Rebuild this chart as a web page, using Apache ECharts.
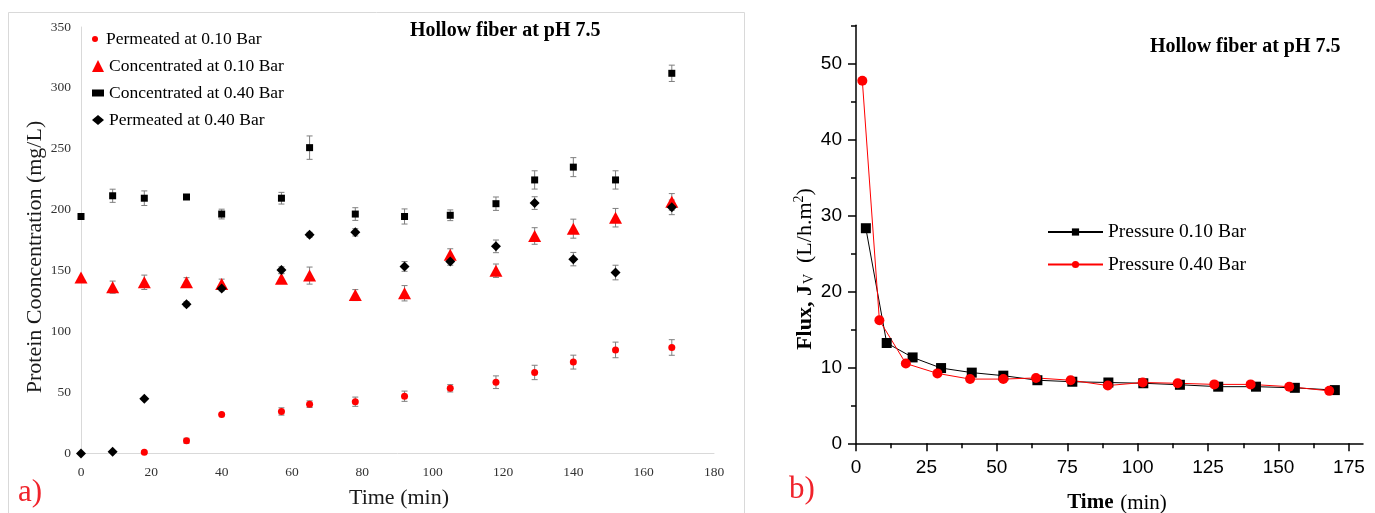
<!DOCTYPE html>
<html>
<head>
<meta charset="utf-8">
<script src="https://cdn.jsdelivr.net/npm/echarts@6/dist/echarts.min.js"></script>
<style>
  html, body { margin: 0; padding: 0; background: #fff; }
  #chart { width: 1375px; height: 513px; }
</style>
</head>
<body>
<div id="chart"></div>
<script>
// ---- a) protein concentration vs time (mean ± error) ----
const timeA = [0, 9, 18, 30, 40, 57, 65, 78, 92, 105, 118, 129, 140, 152, 168];
const timePerm10 = [18, 30, 40, 57, 65, 78, 92, 105, 118, 129, 140, 152, 168];

const perm10 = [1, 10.5, 32, 34.5, 40.5, 42.5, 47, 53.5, 58.5, 66.5, 75, 85, 87];
const perm10Err = [1, 2, 0, 3, 2.7, 3.8, 4.2, 3, 5.2, 5.9, 5.7, 6.4, 6.4];

const conc10 = [144.5, 136.5, 140.5, 140.5, 139, 143.5, 146, 130, 131.5, 163, 150, 178.5, 184.5, 193.5, 206.5];
const conc10Err = [0, 5, 5.9, 3.8, 4.1, 4, 7, 4.5, 6.3, 5, 5.5, 6.8, 7.8, 7.6, 6.8];

const conc40 = [194.5, 211.5, 209.5, 210.5, 196.5, 209.5, 251, 196.5, 194.5, 195.5, 205, 224.5, 235, 224.5, 312];
const conc40Err = [0, 5.4, 6, 2, 4, 4.8, 9.6, 5.2, 6.2, 4.4, 5.5, 7.5, 7.8, 7.5, 6.7];

const perm40 = [0, 1.5, 45, 122.5, 135.5, 150.5, 179.5, 181.5, 153.5, 157.5, 170, 205.5, 159.5, 148.5, 202];
const perm40Err = [0, 0, 0, 2, 2, 2.7, 2, 3, 4, 3, 5.2, 5.2, 5.5, 6, 6];

// ---- b) permeate flux vs time ----
const timeFlux10 = [3.5, 10.9, 20.1, 30.2, 41.1, 52.3, 64.4, 76.8, 89.6, 102, 115, 128.6, 142, 155.8, 170];
const flux10 = [28.3, 13.2, 11.3, 9.9, 9.3, 8.9, 8.3, 8.1, 8.0, 7.9, 7.7, 7.45, 7.45, 7.3, 7.0];
const timeFlux40 = [2.25, 8.3, 17.7, 28.9, 40.5, 52.3, 63.9, 76.2, 89.4, 101.8, 114.2, 127.2, 140.1, 153.8, 168];
const flux40 = [47.7, 16.2, 10.5, 9.2, 8.45, 8.45, 8.6, 8.3, 7.6, 8.0, 7.9, 7.75, 7.75, 7.45, 6.9];

// axis ticks for panel b
const fluxTimeTicks = [0, 25, 50, 75, 100, 125, 150, 175];
const fluxTimeMinor = [12.5, 37.5, 62.5, 87.5, 112.5, 137.5, 162.5];
const fluxTicks = [0, 10, 20, 30, 40, 50];
const fluxMinor = [5, 15, 25, 35, 45, 55];

const SERIF = '"Liberation Serif", "Times New Roman", serif';
const SANS = '"Liberation Sans", Arial, sans-serif';
const RED = '#ff0000';

const pairs = (xs, ys) => xs.map((x, i) => [x, ys[i]]);
const triples = (xs, ys, es) => xs.map((x, i) => [x, ys[i], es[i]]);

function errorBar(params, api) {
  const x = api.value(0), y = api.value(1), e = api.value(2);
  if (!e) return null;
  const hi = api.coord([x, y + e]);
  const lo = api.coord([x, y - e]);
  const hw = 3;
  const style = { stroke: '#7f7f7f', lineWidth: 1 };
  return {
    type: 'group',
    children: [
      { type: 'line', shape: { x1: hi[0], y1: hi[1], x2: lo[0], y2: lo[1] }, style },
      { type: 'line', shape: { x1: hi[0] - hw, y1: hi[1], x2: hi[0] + hw, y2: hi[1] }, style },
      { type: 'line', shape: { x1: lo[0] - hw, y1: lo[1], x2: lo[0] + hw, y2: lo[1] }, style }
    ]
  };
}

function errSeries(xs, ys, es) {
  return {
    type: 'custom', xAxisIndex: 0, yAxisIndex: 0, z: 1,
    renderItem: errorBar, encode: { x: 0, y: 1 },
    data: triples(xs, ys, es), silent: true
  };
}

function legendA(name, h, top) {
  return {
    data: [name], orient: 'vertical', left: 92, top: top, padding: 0,
    itemWidth: 12, itemHeight: h, selectedMode: false,
    textStyle: { fontFamily: SERIF, fontSize: 17.5, color: '#000', lineHeight: 20 }
  };
}

const chart = echarts.init(document.getElementById('chart'), null, { renderer: 'canvas' });

chart.setOption({
  animation: false,
  backgroundColor: '#fff',
  title: [
    { text: 'Hollow fiber at pH 7.5', left: 410, top: 21, padding: 0,
      textStyle: { fontFamily: SERIF, fontWeight: 'bold', fontSize: 20, color: '#000' } },
    { text: 'Hollow fiber at pH 7.5', left: 1150, top: 37, padding: 0,
      textStyle: { fontFamily: SERIF, fontWeight: 'bold', fontSize: 20, color: '#000' } }
  ],
  legend: [
    legendA('Permeated at 0.10 Bar', 6, 29),
    legendA('Concentrated at 0.10 Bar', 12, 56),
    legendA('Concentrated at 0.40 Bar', 7, 83),
    legendA('Permeated at 0.40 Bar', 10, 110),
    {
      data: ['Pressure 0.10 Bar', 'Pressure 0.40 Bar'],
      orient: 'vertical', left: 1047, top: 222, padding: 0,
      itemWidth: 55, itemHeight: 9, itemGap: 12.5, selectedMode: false,
      textStyle: { fontFamily: SERIF, fontSize: 19.5, color: '#000', lineHeight: 20 }
    }
  ],
  grid: [
    { left: 81, top: 27, width: 633, height: 426.5, outerBoundsMode: 'none' },
    { left: 856, top: 25.3, width: 507, height: 418, outerBoundsMode: 'none' }
  ],
  xAxis: [
    {
      gridIndex: 0, type: 'value', min: 0, max: 180, interval: 20,
      axisLine: { show: true, lineStyle: { color: '#d9d9d9', width: 1 } },
      axisTick: { show: false }, splitLine: { show: false },
      axisLabel: { fontFamily: SERIF, fontSize: 13.5, color: '#333', margin: 12 }
    },
    {
      gridIndex: 1, type: 'value', min: 0, max: 180, position: 'bottom',
      axisLine: { show: true, lineStyle: { color: '#000', width: 1.5 } },
      axisTick: { show: true, customValues: fluxTimeTicks, length: 8, lineStyle: { color: '#000', width: 1.5 } },
      axisLabel: { customValues: fluxTimeTicks, fontFamily: SANS, fontSize: 19, color: '#000', margin: 15 },
      splitLine: { show: false }
    },
    {
      gridIndex: 1, type: 'value', min: 0, max: 180, position: 'bottom',
      axisLine: { show: false },
      axisTick: { show: true, customValues: fluxTimeMinor, length: 5, lineStyle: { color: '#000', width: 1.5 } },
      axisLabel: { show: false }, splitLine: { show: false }
    }
  ],
  yAxis: [
    {
      gridIndex: 0, type: 'value', min: 0, max: 350, interval: 50,
      axisLine: { show: true, lineStyle: { color: '#d9d9d9', width: 1 } },
      axisTick: { show: false }, splitLine: { show: false },
      axisLabel: { fontFamily: SERIF, fontSize: 13.5, color: '#333', margin: 10 }
    },
    {
      gridIndex: 1, type: 'value', min: 0, max: 55, position: 'left',
      axisLine: { show: true, lineStyle: { color: '#000', width: 1.5 } },
      axisTick: { show: true, customValues: fluxTicks, length: 8, lineStyle: { color: '#000', width: 1.5 } },
      axisLabel: { customValues: fluxTicks, fontFamily: SANS, fontSize: 19, color: '#000', margin: 14 },
      splitLine: { show: false }
    },
    {
      gridIndex: 1, type: 'value', min: 0, max: 55, position: 'left',
      axisLine: { show: false },
      axisTick: { show: true, customValues: fluxMinor, length: 5, lineStyle: { color: '#000', width: 1.5 } },
      axisLabel: { show: false }, splitLine: { show: false }
    }
  ],
  series: [
    errSeries(timePerm10, perm10, perm10Err),
    errSeries(timeA, conc10, conc10Err),
    errSeries(timeA, conc40, conc40Err),
    errSeries(timeA, perm40, perm40Err),
    {
      name: 'Permeated at 0.10 Bar', type: 'scatter', xAxisIndex: 0, yAxisIndex: 0, z: 2,
      symbol: 'circle', symbolSize: 7, itemStyle: { color: RED, opacity: 1 },
      data: pairs(timePerm10, perm10)
    },
    {
      name: 'Concentrated at 0.10 Bar', type: 'scatter', xAxisIndex: 0, yAxisIndex: 0, z: 2,
      symbol: 'triangle', symbolSize: [13, 12], itemStyle: { color: RED, opacity: 1 },
      data: pairs(timeA, conc10)
    },
    {
      name: 'Concentrated at 0.40 Bar', type: 'scatter', xAxisIndex: 0, yAxisIndex: 0, z: 2,
      symbol: 'rect', symbolSize: 7, itemStyle: { color: '#000', opacity: 1 },
      data: pairs(timeA, conc40)
    },
    {
      name: 'Permeated at 0.40 Bar', type: 'scatter', xAxisIndex: 0, yAxisIndex: 0, z: 3,
      symbol: 'diamond', symbolSize: [10, 10], itemStyle: { color: '#000', opacity: 1 },
      data: pairs(timeA, perm40)
    },
    {
      name: 'Pressure 0.10 Bar', type: 'line', xAxisIndex: 1, yAxisIndex: 1,
      symbol: 'rect', symbolSize: 10, showAllSymbol: true,
      lineStyle: { color: '#000', width: 1 }, itemStyle: { color: '#000' },
      data: pairs(timeFlux10, flux10)
    },
    {
      name: 'Pressure 0.40 Bar', type: 'line', xAxisIndex: 1, yAxisIndex: 1,
      symbol: 'circle', symbolSize: 10, showAllSymbol: true,
      lineStyle: { color: RED, width: 1 }, itemStyle: { color: RED },
      data: pairs(timeFlux40, flux40)
    }
  ],
  graphic: [
    { type: 'rect', silent: true, z: -1,
      shape: { x: 8.5, y: 12.5, width: 736, height: 520 },
      style: { fill: null, stroke: '#d9d9d9', lineWidth: 1 } },
    { type: 'text', x: 35, y: 257, rotation: Math.PI / 2,
      style: { text: 'Protein Cooncentration (mg/L)', fontFamily: SERIF, fontSize: 22,
               fill: '#1a1a1a', align: 'center', verticalAlign: 'middle' } },
    { type: 'text', x: 399, y: 498,
      style: { text: 'Time (min)', fontFamily: SERIF, fontSize: 22,
               fill: '#1a1a1a', align: 'center', verticalAlign: 'middle' } },
    { type: 'text', x: 30, y: 493,
      style: { text: 'a)', fontFamily: SERIF, fontSize: 31, fill: '#f0232b',
               align: 'center', verticalAlign: 'middle' } },
    { type: 'text', x: 802, y: 490,
      style: { text: 'b)', fontFamily: SERIF, fontSize: 31, fill: '#f0232b',
               align: 'center', verticalAlign: 'middle' } },
    { type: 'text', x: 805, y: 269, rotation: Math.PI / 2,
      style: {
        text: '{b|Flux, J}{s|V}{n|  (L/h.m}{sup|2}{n|)}',
        align: 'center', verticalAlign: 'middle', fill: '#000',
        rich: {
          b: { fontFamily: SERIF, fontWeight: 'bold', fontSize: 22, fill: '#000' },
          s: { fontFamily: SERIF, fontSize: 14, fill: '#000', padding: [8, 0, 0, 1] },
          n: { fontFamily: SERIF, fontSize: 22, fill: '#000' },
          sup: { fontFamily: SERIF, fontSize: 14, fill: '#000', padding: [0, 0, 12, 0] }
        }
      } },
    { type: 'text', x: 1117, y: 503,
      style: {
        text: '{b|Time}  {n|(min)}',
        align: 'center', verticalAlign: 'middle', fill: '#000',
        rich: {
          b: { fontFamily: SERIF, fontWeight: 'bold', fontSize: 21, fill: '#000' },
          n: { fontFamily: SERIF, fontSize: 21, fill: '#000' }
        }
      } }
  ]
});
</script>
</body>
</html>
